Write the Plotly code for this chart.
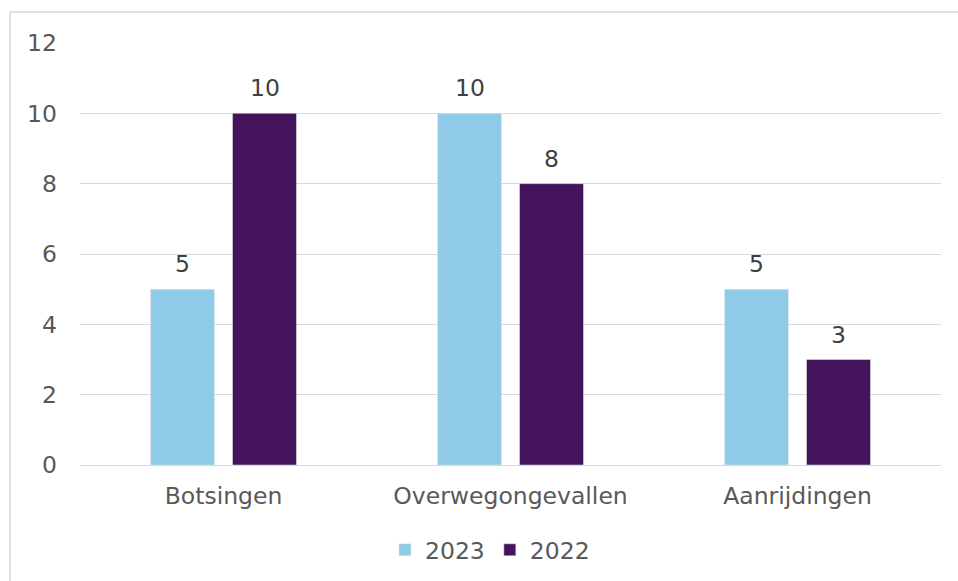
import plotly.graph_objects as go

categories = ["Botsingen", "Overwegongevallen", "Aanrijdingen"]
values_2023 = [5, 10, 5]
values_2022 = [10, 8, 3]
y_ticks = [0, 2, 4, 6, 8, 10, 12]

W, H = 958, 581
L, T = 80, 43
R = W - 941
B = H - 465
pw, ph = W - L - R, H - T - B

font = "DejaVu Sans, Verdana, sans-serif"
fsz = 23.5
tcol = "#595959"
c2023, c2022 = "#8FCAE6", "#43145B"

fig = go.Figure()
fig.add_trace(go.Bar(name="2023", x=categories, y=values_2023, marker_color=c2023))
fig.add_trace(go.Bar(name="2022", x=categories, y=values_2022, marker_color=c2022))

annotations = []
for vals, xs in ((values_2023, -41), (values_2022, 41)):
    for c, v in zip(categories, vals):
        annotations.append(dict(x=c, y=v, xref="x", yref="y", text=str(v), showarrow=False,
                                xshift=xs, yshift=25, yanchor="middle",
                                font=dict(size=fsz, color="#404040", family=font)))

fig.update_layout(
    width=W, height=H,
    margin=dict(l=L, r=R, t=T, b=B, autoexpand=False),
    paper_bgcolor="white", plot_bgcolor="white",
    barmode="group", bargap=0.4286, bargroupgap=0.2195,
    font=dict(family=font, size=fsz, color=tcol),
    showlegend=True,
    legend=dict(orientation="h", x=(490 - 80) / pw, xanchor="center",
                y=-(550 - 465) / ph, yanchor="middle",
                font=dict(size=fsz, color=tcol), itemwidth=30,
                traceorder="normal"),
    xaxis=dict(showgrid=False, showline=True, linecolor="#D9D9D9", linewidth=1,
               ticks="", tickfont=dict(size=fsz, color=tcol), ticklabelstandoff=10),
    yaxis=dict(range=[0, 12], tickvals=y_ticks, showgrid=True, gridcolor="#D9D9D9",
               gridwidth=1, zeroline=False, showline=False, ticks="",
               tickfont=dict(size=fsz, color=tcol), ticklabelstandoff=22),
    annotations=annotations,
    shapes=[dict(type="rect", xref="paper", yref="paper",
                 x0=(10 - 80) / pw, x1=1.5, y0=-0.8, y1=1 + (43 - 12) / ph,
                 line=dict(color="#D9D9D9", width=1.5), fillcolor="rgba(0,0,0,0)",
                 layer="below")],
)

fig.write_html("out.html", config={"displayModeBar": False},
               post_script="document.body.style.margin='0px';document.body.style.overflow='hidden';")
